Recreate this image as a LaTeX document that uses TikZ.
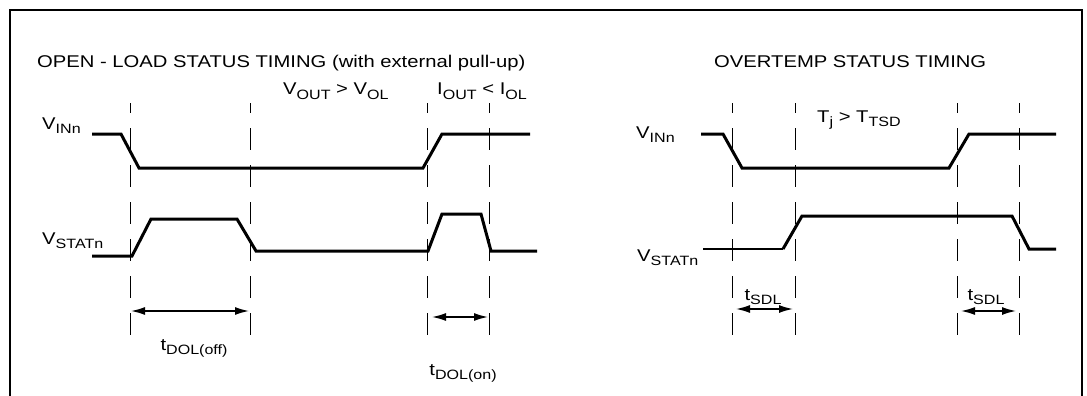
\documentclass[tikz,border=0pt]{standalone}
\usepackage{fontspec}
\setmainfont{Liberation Sans}[FakeStretch=1.19]
\usepackage{tikz}
\usetikzlibrary{arrows.meta}

\newcommand{\sbs}[1]{\raisebox{-4.5pt}{\fontsize{13.5}{14}\selectfont #1}}

\begin{document}
\begin{tikzpicture}[x=1pt,y=-1pt,
  sig/.style={line width=3pt,line join=miter},
  guide/.style={line width=0.8pt,dash pattern=on 22pt off 15pt,dash phase=12pt},
  dim/.style={line width=1.5pt,{Latex[length=14pt,width=8pt]}-{Latex[length=14pt,width=8pt]}},
  lbl/.style={inner sep=0pt,font=\fontsize{17}{20}\selectfont}]
\useasboundingbox (0,0) rectangle (1087,396);
\draw[line width=2.5pt] (10,396) -- (10,10) -- (1082,10) -- (1082,396);

% open load
\draw (37,68) node[lbl,anchor=base west] (olTitle) {OPEN - LOAD STATUS TIMING (with external pull-up)};
\draw (283,95) node[lbl,anchor=base west] (voutCond) {V\sbs{OUT} > V\sbs{OL}};
\draw (437,95) node[lbl,anchor=base west] (ioutCond) {I\sbs{OUT} < I\sbs{OL}};
\draw (42,129) node[lbl,anchor=base west] (olVin) {V\sbs{INn}};
\draw (42,244) node[lbl,anchor=base west] (olVstat) {V\sbs{STATn}};
\foreach \x in {130,250,427,489}
  \draw[guide] (\x,103) -- (\x,338);
\draw[sig] (92,134) -- (121,134) -- (139,168) -- (423,168) -- (442,134) -- (530,134);
\draw[sig] (92,256) -- (132,256) -- (151,219) -- (237,219) -- (256,251) -- (428,251)
  -- (442,214) -- (481,214) -- (491,251) -- (537,251);
\coordinate (offL) at (131,311);
\coordinate (offR) at (249,311);
\coordinate (onL) at (432,317);
\coordinate (onR) at (488,317);
\draw[dim] (offL) -- (offR);
\draw[dim] (onL) -- (onR);
\draw (194,350) node[lbl,anchor=base] (tOff) {t\sbs{DOL(off)}};
\draw (463,375) node[lbl,anchor=base] (tOn) {t\sbs{DOL(on)}};

% overtemp
\draw (714,68) node[lbl,anchor=base west] (otTitle) {OVERTEMP STATUS TIMING};
\draw (817,122) node[lbl,anchor=base west] (tjCond) {T\sbs{j} > T\sbs{TSD}};
\draw (636,138) node[lbl,anchor=base west] (otVin) {V\sbs{INn}};
\draw (637,261) node[lbl,anchor=base west] (otVstat) {V\sbs{STATn}};
\foreach \x in {732,795,957,1019}
  \draw[guide] (\x,103) -- (\x,338);
\draw[sig] (701,134) -- (723,134) -- (742,168) -- (949,168) -- (969,134) -- (1056,134);
\draw[line width=1.5pt] (703,249) -- (783,249);
\draw[sig] (783,249) -- (802,216) -- (1012,216) -- (1029,249) -- (1056,249);
\coordinate (sdlAL) at (736,309);
\coordinate (sdlAR) at (793,309);
\coordinate (sdlBL) at (961,311);
\coordinate (sdlBR) at (1016,311);
\draw[dim] (sdlAL) -- (sdlAR);
\draw[dim] (sdlBL) -- (sdlBR);
\draw (763,300) node[lbl,anchor=base] (tSdlA) {t\sbs{SDL}};
\draw (986,300) node[lbl,anchor=base] (tSdlB) {t\sbs{SDL}};
\end{tikzpicture}
\end{document}
